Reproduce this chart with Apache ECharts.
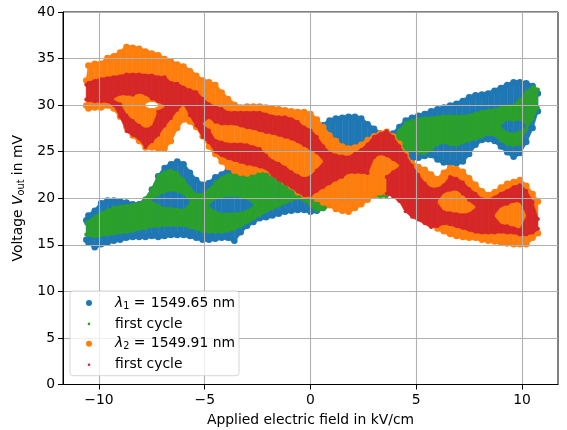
<!DOCTYPE html>
<html><head><meta charset="utf-8">
<style>html,body{margin:0;padding:0;background:#fff}#c{width:567px;height:430px}</style>
<script src="https://cdn.jsdelivr.net/npm/echarts@6/dist/echarts.min.js"></script>
</head><body><div id="c"></div>
<script>
const xTicks=[-10,-5,0,5,10];
const yTicks=[0,5,10,15,20,25,30,35,40];
const names=['λ1 = 1549.65 nm','first cycle','λ2 = 1549.91 nm','first cycle '];
const fieldColumns=[-10.6,-10.5,-10.2,-9.9,-9.6,-9.3,-9,-8.7,-8.4,-8.1,-7.8,-7.5,-7.2,-6.9,-6.6,-6.3,-6,-5.7,-5.4,-5.1,-4.8,-4.5,-4.2,-3.9,-3.6,-3.3,-3,-2.7,-2.4,-2.1,-1.8,-1.5,-1.2,-0.9,-0.6,-0.3,0,0.3,0.6,0.9,1.2,1.5,1.8,2.1,2.4,2.7,3,3.3,3.6,3.9,4.2,4.5,4.8,5.1,5.4,5.7,6,6.3,6.6,6.9,7.2,7.5,7.8,8.1,8.4,8.7,9,9.3,9.6,9.9,10.2,10.5,10.75];
const blueSpans=[[15.2,18],[14.9,18.5],[14.4,19],[14.7,19.8],[14.9,20.1],[15.1,20.1],[15.2,20],[15.4,19.9],[15.5,19.7],[15.5,19.7],[15.5,20.2],[15.6,21.3],[15.5,22.7],[15.6,23.6],[15.7,24],[15.7,24.3],[15.7,24],[15.6,23.1],[15.4,22.3],[15.2,21.8],[15.2,22],[15.3,22.6],[15.4,22.9],[15.4,23.5],[15.1,23.5],[16,23.5],[16.7,23.5],[17.1,23.5],[17.5,23.5],[17.6,23.5],[17.8,23.5],[18,23],[18.2,23],[18.3,23],[18.4,23],[18.4,23],[18.2,23],[18.3,23],[18.6,28.2],[19,28.7],[19.5,28.9],[19.5,29],[19.5,29.1],[19.5,29.1],[19.5,28.9],[20,28.3],[20,27.8],[20.3,27.3],[20.2,27],[22,27.3],[23,28],[23.7,28.7],[23.9,29],[24,29.2],[24.2,29.4],[24.3,29.7],[23.8,29.9],[23.5,30.1],[23.4,30.3],[23.4,30.5],[23.6,30.8],[24.4,31.2],[25.4,31.4],[25.9,31.5],[26,31.6],[25.8,31.9],[25.2,32.2],[24.6,32.5],[24.1,32.8],[24.5,32.8],[25.7,32.7],[27.2,32.4],[29,31.6]];
const greenSpans=[[15.9,17.5],[15.8,17.7],[15.7,18.2],[15.8,18.6],[15.9,18.9],[16,19.2],[16.1,19.3],[16.2,19.4],[16.3,19.5],[16.5,19.6],[16.6,20.2],[16.8,21.2],[16.8,19.4,20.2,22.6],[16.9,19.1,20.5,23],[16.9,19.1,20.7,23.2],[16.9,19,20.6,22.9],[16.9,18.9,20.3,22.2],[16.7,21.3],[16.5,20.6],[16.3,20.6],[16.2,21.1],[16.2,18.7,19.8,21.9],[16.2,18.5,20,22.4],[16.3,18.5,20.1,22.7],[16.5,18.5,20.1,22.8],[16.8,18.6,20,22.8],[17.2,18.8,19.8,22.9],[17.6,23],[18,23],[18.4,23],[18.7,23],[19,22.6],[19.3,22.4],[19.6,22],[19.8,21.6],[19.6,21],[19,21],[18.5,21],[18.6,21],[19,21],[20,22],[20,22],[20,22],[20,22],[20,22],[20,22],[20,22],[20,22],[20,22],[24,26.5],[25,27.5],[25,28.3],[25,28.5],[24.7,28.7],[24.6,28.8],[25,28.8],[25.6,28.9],[25.8,29],[25.6,29],[25.5,29],[25.8,29],[26,29.1],[26.2,29.3],[26.4,29.5],[26.7,29.6],[26.6,29.7],[26,29.9],[25.6,27.2,28.3,30.1],[25.5,27.1,28.2,30.2],[25.6,27.3,28.3,30.8],[27.2,31.6],[28.3,32.2],[29.5,31.9]];
const orangeSpans=[[29.6,33],[29.3,34.6],[29.4,34.8],[29.4,34.8],[29.6,35.4],[29.3,35.6],[28.4,36],[27.3,36.6],[26.4,36.5],[25.8,36.4],[25.1,36.1],[25.1,29.7,30.3,35.9],[25,35.7],[25,35.3],[25.8,35],[27.2,34.7],[28.1,34.5],[27.9,34],[27.3,33.5],[26.3,33],[25.2,32.8],[24.4,32.5],[23.6,31.7],[23,31],[22.6,30.4],[22.4,30.1],[22.3,30.2],[22.5,30.2],[22.7,30.2],[22.7,30.1],[22.3,30],[21.9,29.9],[21.4,29.8],[20.9,29.7],[20.3,29.6],[20,29.6],[19.9,29.4],[19.6,28.8],[19.2,28],[18.9,27.1],[18.5,26.5],[18.3,25.9],[18.2,25.7],[18.6,25.8],[19,26.1],[19.5,26.6],[20,27],[20.3,27.3],[20.3,27.5],[20.2,27],[19.6,26.2],[18.7,25.1],[18.1,24.1],[17.7,23.7],[17.3,23.4],[16.8,22.9],[16.4,22.4],[16.1,23.1],[15.8,23.6],[15.6,23.5],[15.5,23.2],[15.4,22.5],[15.4,21.8],[15.2,21.1],[15.1,20.7],[15,21],[14.9,21.5],[14.8,21.9],[14.7,22.1],[14.7,22.3],[14.7,21.7],[15.4,20.8],[15.9,20]];
const redSpans=[[30.4,32.4],[30.3,32.6],[30.2,32.8],[30.2,33],[30.2,33.1],[29.8,33.2],[28.6,30.3,31,33.3],[27,29.1,31,33.5],[26.6,28.5,30.9,33.5],[26.2,28,31.2,33.5],[25.3,27.6,31,33.4],[25.9,27.8,30.5,33.4],[26.6,29.5,30.2,33.2],[27.6,33.2],[28.4,32.6],[29.3,32.5],[30,32.1],[28.7,31.8],[27.6,31.6],[26.4,30.9],[25.8,27.5,28.5,30.3],[24.8,26.4,28,30],[24.4,26.2,27.8,29.8],[24.1,26,27.8,29.4],[23.9,26,27.8,29.4],[23.7,26,27.6,29.4],[23.5,25.9,27.4,29.4],[23.4,25.7,27.3,29.4],[23.2,25.5,27.1,29.4],[23,24.8,26.9,29.2],[22.3,24.2,26.8,29],[21.8,23.9,26.6,28.9],[21.4,23.5,26.4,28.9],[21,23,26.2,28.7],[20.5,22.6,25.9,28.4],[20.1,22.3,25.5,27.8],[20.1,22.5,25.1,27.5],[20.6,23.2,24.7,26.8],[21,25.8],[21.4,25.1],[21.8,24.8],[22.1,24.7],[22.6,24.6],[22.6,25],[22.6,25.4],[22.5,26],[24.2,26.8],[24.6,27.1],[20.3,22.5,24.4,27.4],[20,23,24,26.8],[19.5,25.8],[18.4,24.8],[17.8,23.7],[17.5,22.7],[17.1,21.8],[16.7,21.2],[16.8,21.2],[17.1,18.7,20.5,21.6],[17,18.6,20.7,22.5],[16.8,18.5,20.8,22.3],[16.6,18.4,20.3,21.9],[16.4,18.5,19.6,21.2],[16.2,20.7],[16.1,20.1],[16.1,20],[16.1,20.3],[16.2,17.3,19,20.7],[16.1,17.2,19.2,21],[16.1,17,19.5,21.4],[15.9,16.8,19.5,21.6],[15.9,21],[16.1,19.8],[16.5,18]];

// Turn a flat [lo,hi,lo,hi] column into pairs.
const pairs=s=>{const o=[];for(let k=0;k<s.length;k+=2)o.push([s[k],s[k+1]]);return o;};
const touches=(p,q)=>q[0]<=p[1]&&p[0]<=q[1];
// The part of span p that belongs to neighbour q when p meets several neighbours.
function share(p,q,others){
  const hit=others.filter(o=>touches(p,o)),j=hit.indexOf(q);
  let lo=p[0],hi=p[1];
  if(j>0)lo=(hit[j-1][1]+q[0])/2;
  if(j<hit.length-1)hi=(q[1]+hit[j+1][0])/2;
  return [lo,hi];
}
// Each row joins one read span to an overlapping span of the next column.
function rows(spans){
  const out=[];
  spans.forEach((c,i)=>{
    const a=pairs(c),b=pairs(spans[i+1]||[]);
    a.forEach(p=>{
      out.push([fieldColumns[i],p[0],p[1],fieldColumns[i],p[0],p[1]]);
      b.forEach(q=>{
        if(!touches(p,q))return;
        const u=share(p,q,b),w=share(q,p,a);
        out.push([fieldColumns[i],u[0],u[1],fieldColumns[i+1],w[0],w[1]]);
      });
    });
  });
  return out;
}
function band(name,spans,color,z,d){
  const r=d/2;
  return {type:'custom',name,z,clip:false,silent:true,animation:false,
    itemStyle:{color},
    encode:{x:0,y:[1,2]},
    data:rows(spans),
    renderItem(p,api){
      const v=i=>api.value(i);
      const a=api.coord([v(0),v(2)]),b=api.coord([v(0),v(1)]);
      const c=api.coord([v(3),v(5)]),e=api.coord([v(3),v(4)]);
      const trim=(t,u,m)=>{let y1=t+m,y2=u-m;if(y1>y2){y1=y2=(t+u)/2;}return [y1,y2];};
      const st={fill:color,stroke:null};
      if(v(0)===v(3)){
        const [y1,y2]=trim(a[1],b[1],r);
        return {type:'group',children:[
          {type:'circle',shape:{cx:a[0],cy:y1,r},style:st},
          {type:'circle',shape:{cx:a[0],cy:y2,r},style:st}]};
      }
      const [y1,y2]=trim(a[1],b[1],r*0.45);
      const [y3,y4]=trim(c[1],e[1],r*0.45);
      return {type:'polygon',shape:{points:[[a[0],y1],[c[0],y3],[c[0],y4],[a[0],y2]]},style:{fill:color,stroke:color,lineWidth:0.5}};
    }};
}
const big='path://M0 0M40 10M22 5A3 3 0 1 1 16 5A3 3 0 1 1 22 5Z';
const small='path://M0 0M40 10M20.3 5A1.3 1.3 0 1 1 17.7 5A1.3 1.3 0 1 1 20.3 5Z';
const txt='#000',font='DejaVu Sans';
const chart=echarts.init(document.getElementById('c'),null,{renderer:'canvas'});
const minus=v=>String(v).replace('-','−');
chart.setOption({
  animation:false,
  textStyle:{fontFamily:font},
  grid:{left:63,right:9,top:12,bottom:45.5,show:true,outerBoundsMode:'none',borderColor:'#000',borderWidth:1,backgroundColor:'#fff'},
  legend:{orient:'vertical',left:70,top:291,itemWidth:40,itemHeight:10,itemGap:5.9,padding:[5,4,4,0],
    backgroundColor:'rgba(255,255,255,0.8)',borderColor:'rgba(204,204,204,0.8)',borderWidth:1,borderRadius:3,z:10,
    selectedMode:false,
    data:[{name:names[0],icon:big},{name:names[1],icon:small},{name:names[2],icon:big},{name:names[3],icon:small}],
    textStyle:{fontFamily:font,fontSize:13.9,color:txt,
      rich:{i:{fontStyle:'italic',fontSize:13.9,color:txt},
            s:{fontSize:9.7,color:txt,verticalAlign:'bottom',padding:[6,0,0,0]},
            t:{fontSize:13.9,color:txt},
            u:{fontSize:13.9,color:txt,padding:[0,0,0,1]}}},
    formatter(n){
      if(n===names[0])return '{i|λ}{s|1}{t| = }{u|1549.65 nm}';
      if(n===names[2])return '{i|λ}{s|2}{t| = }{u|1549.91 nm}';
      return '{t|first cycle}';
    }},
  xAxis:{type:'value',min:-11.7,max:11.7,z:3,
    name:'Applied electric field in kV/cm',nameLocation:'middle',nameGap:29,
    nameTextStyle:{fontFamily:font,fontSize:13.9,color:txt},
    axisLine:{show:true,onZero:false,lineStyle:{color:'#000',width:1}},
    axisTick:{show:true,length:5,customValues:xTicks,lineStyle:{color:'#000',width:1}},
    axisLabel:{customValues:xTicks,fontFamily:font,fontSize:13.9,color:txt,margin:9,formatter:minus},
    splitLine:{show:true,lineStyle:{color:'#b0b0b0',width:1.1}}},
  yAxis:{type:'value',min:0,max:40,interval:5,z:3,
    name:'{t|Voltage }{i|V}{s|out}{t| in mV}',nameLocation:'middle',nameGap:31,
    nameTextStyle:{fontFamily:font,fontSize:13.9,color:txt,
      rich:{t:{fontSize:13.9,color:txt},i:{fontSize:13.9,fontStyle:'italic',color:txt},s:{fontSize:9.7,color:txt,verticalAlign:'bottom',padding:[6,0,0,0]}}},
    axisLine:{show:true,onZero:false,lineStyle:{color:'#000',width:1}},
    axisTick:{show:true,length:5,lineStyle:{color:'#000',width:1}},
    axisLabel:{fontFamily:font,fontSize:13.9,color:txt,margin:8},
    splitLine:{show:true,lineStyle:{color:'#b0b0b0',width:1.1}}},
  series:[band(names[0],blueSpans,'#1f77b4',2,6.5),band(names[1],greenSpans,'#2ca02c',2.1,4),band(names[2],orangeSpans,'#ff7f0e',2.2,6.5),band(names[3],redSpans,'#d62728',2.3,4)]
});
</script></body></html>
